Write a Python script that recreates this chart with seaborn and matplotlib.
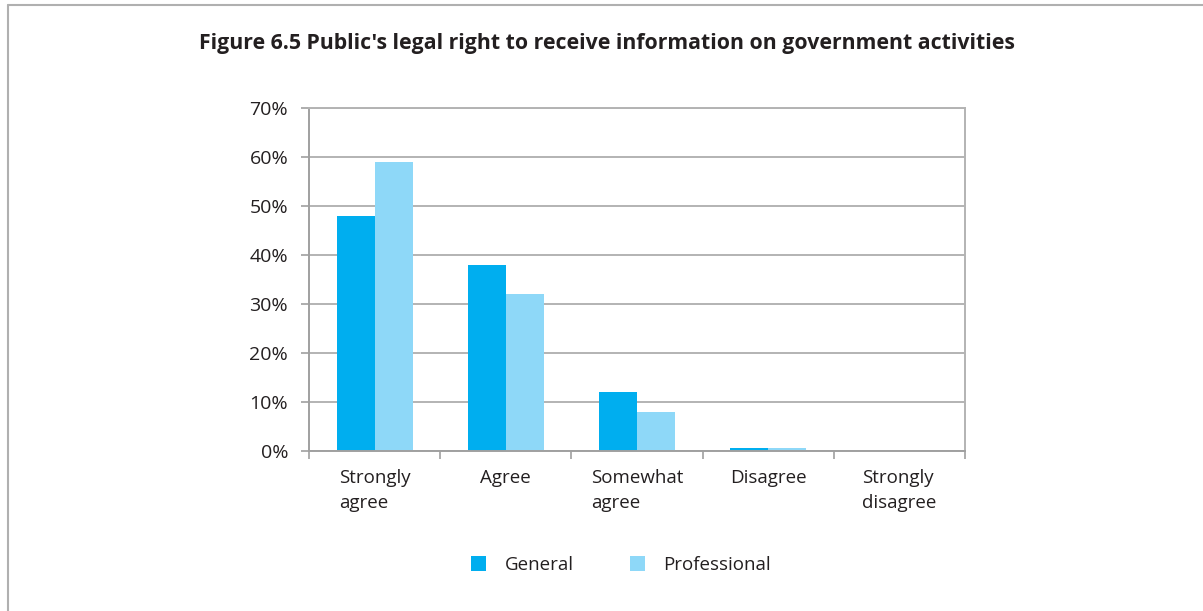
import matplotlib
matplotlib.use("Agg")
import matplotlib.pyplot as plt
import matplotlib.lines as mlines
import matplotlib.patches as mpatches
import seaborn as sns
import pandas as pd
from matplotlib.ticker import PercentFormatter, FixedLocator

# Survey responses (% of respondents)
categories = ["Strongly\nagree", "Agree", "Somewhat\nagree", "Disagree", "Strongly\ndisagree"]
general = [48, 38, 12, 0.7, 0]
professional = [59, 32, 8, 0.7, 0]
groups = ["General", "Professional"]
colors = ["#00AEEF", "#8ED8F8"]
title = "Figure 6.5 Public's legal right to receive information on government activities"

df = pd.DataFrame({
    "category": categories * 2,
    "group": [groups[0]] * len(categories) + [groups[1]] * len(categories),
    "value": general + professional,
})

sns.set_theme(style="white")
plt.rcParams["font.family"] = ["Open Sans", "DejaVu Sans"]

fig = plt.figure(figsize=(12.03, 6.11), dpi=100)
ax = fig.add_axes([309 / 1203, 159.7 / 611, 656 / 1203, 343.6 / 611])

sns.barplot(data=df, x="category", y="value", hue="group", order=categories,
            hue_order=groups, palette=colors, width=0.58, gap=0,
            saturation=1, linewidth=0, ax=ax, legend=False)

grid_c = "#b3b3b3"
text_c = "#231f20"
ax.set_ylim(0, 70)
ax.set_xlim(-0.5, len(categories) - 0.5)
ax.yaxis.set_major_locator(FixedLocator(range(0, 71, 10)))
ax.yaxis.set_major_formatter(PercentFormatter(decimals=0))
ax.grid(axis="y", color=grid_c, linewidth=1.4)
ax.set_axisbelow(True)

# category boundary ticks on the x axis, labels centred between them
ax.set_xticks([i + 0.5 for i in range(-1, len(categories))], minor=False)
ax.set_xticklabels([])
ax.set_xticks(range(len(categories)), minor=True)
ax.set_xticklabels(categories, minor=True, fontsize=13.5, color=text_c,
                   multialignment="left", va="top", linespacing=1.5)
ax.tick_params(axis="x", which="major", length=6, width=1.2, color="#a0a0a0",
               direction="out", bottom=True)
ax.tick_params(axis="x", which="minor", length=0, pad=13)
ax.tick_params(axis="y", length=6, width=1.2, color="#a0a0a0", direction="out",
               left=True, labelsize=14, labelcolor=text_c, pad=9)
ax.set_xlabel("")
ax.set_ylabel("")

for side in ["left", "right", "top", "bottom"]:
    ax.spines[side].set_visible(True)
    ax.spines[side].set_color(grid_c)
    ax.spines[side].set_linewidth(1.4)
ax.spines["left"].set_color("#a0a0a0")
ax.spines["bottom"].set_color("#a0a0a0")

fig.text(607 / 1203, 1 - 44 / 611, title, ha="center", va="center",
         fontsize=15.3, fontweight="bold", color=text_c)

handles = [mpatches.Patch(facecolor=c, edgecolor="none", label=g)
           for g, c in zip(groups, colors)]
fig.legend(handles=handles, loc="center", bbox_to_anchor=(621 / 1203, 1 - 565 / 611),
           ncol=2, frameon=False, fontsize=13.5, handlelength=0.8, handleheight=0.8,
           handletextpad=1.0, columnspacing=3.0, labelcolor=text_c)

# outer frame (top and left edges)
fig.add_artist(mlines.Line2D([8 / 1203, 1], [1 - 5 / 611, 1 - 5 / 611],
                             transform=fig.transFigure, color="#b0b0b0", linewidth=1.5))
fig.add_artist(mlines.Line2D([8 / 1203, 8 / 1203], [0, 1 - 5 / 611],
                             transform=fig.transFigure, color="#b0b0b0", linewidth=1.5))

fig.savefig("out.png", dpi=100, facecolor="white")
